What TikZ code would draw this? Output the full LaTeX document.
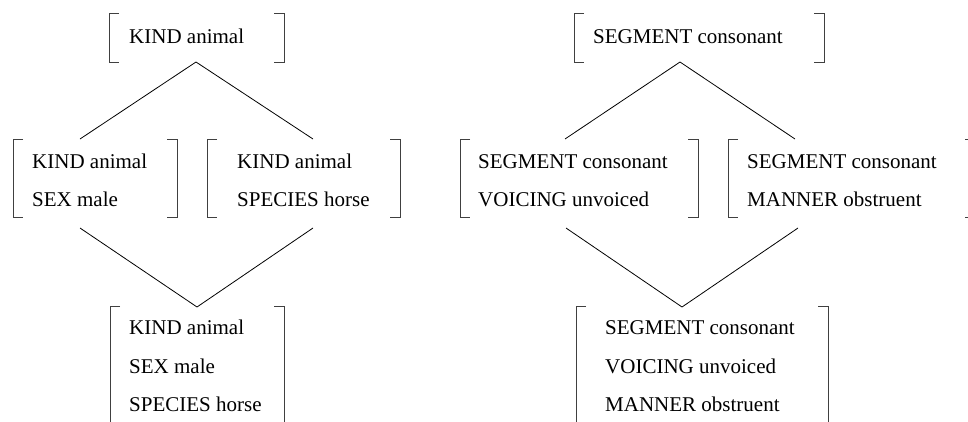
\documentclass[tikz,border=0pt]{standalone}
\usepackage{fontspec}
\setmainfont{Liberation Serif}
\newcommand\avmbox[4]{%
  \draw[bracketline] ({#1+10},#3) -- (#1,#3) -- (#1,#4) -- ({#1+10},#4);
  \draw[bracketline] ({#2-10},#3) -- (#2,#3) -- (#2,#4) -- ({#2-10},#4);}
\begin{document}
\begin{tikzpicture}[x=1pt,y=-1pt,
  bracketline/.style={draw=black!75,line width=0.9pt},
  edge/.style={draw=black,line width=0.8pt},
  feat/.style={anchor=base west,inner sep=0pt,font=\fontsize{21}{25}\selectfont}]
\useasboundingbox (0,0) rectangle (968,421);
\clip (0,0) rectangle (968,421);
% ---------- left panel ----------
\avmbox{109}{284}{13}{62}
\node[feat] (a1) at (129,43) {KIND animal};
\avmbox{13}{177}{139}{217}
\node[feat] (b1) at (32,168) {KIND animal};
\node[feat] (b2) at (32,206) {SEX male};
\avmbox{207}{400}{139}{217}
\node[feat] (c1) at (237,168) {KIND animal};
\node[feat] (c2) at (237,206) {SPECIES horse};
\avmbox{110}{284}{306}{440}
\node[feat] (d1) at (129,334) {KIND animal};
\node[feat] (d2) at (129,373) {SEX male};
\node[feat] (d3) at (129,411) {SPECIES horse};
\coordinate (Ltop) at (196,62);
\coordinate (Lml) at (80,139);
\coordinate (Lmr) at (313,139);
\coordinate (Lbl) at (80,228);
\coordinate (Lbr) at (313,228);
\coordinate (Lbot) at (197,307);
\draw[edge] (Lml) -- (Ltop) -- (Lmr);
\draw[edge] (Lbl) -- (Lbot) -- (Lbr);
% ---------- right panel ----------
\avmbox{574}{824}{13}{62}
\node[feat] (e1) at (593,43) {SEGMENT consonant};
\avmbox{460}{698}{139}{217}
\node[feat] (f1) at (478,168) {SEGMENT consonant};
\node[feat] (f2) at (478,206) {VOICING unvoiced};
\avmbox{728}{975}{139}{217}
\node[feat] (g1) at (747,168) {SEGMENT consonant};
\node[feat] (g2) at (747,206) {MANNER obstruent};
\avmbox{576}{828}{306}{440}
\node[feat] (h1) at (605,334) {SEGMENT consonant};
\node[feat] (h2) at (605,373) {VOICING unvoiced};
\node[feat] (h3) at (605,411) {MANNER obstruent};
\coordinate (Rtop) at (680,62);
\coordinate (Rml) at (565,139);
\coordinate (Rmr) at (795,139);
\coordinate (Rbl) at (566,228);
\coordinate (Rbr) at (798,228);
\coordinate (Rbot) at (682,307);
\draw[edge] (Rml) -- (Rtop) -- (Rmr);
\draw[edge] (Rbl) -- (Rbot) -- (Rbr);
\end{tikzpicture}
\end{document}
